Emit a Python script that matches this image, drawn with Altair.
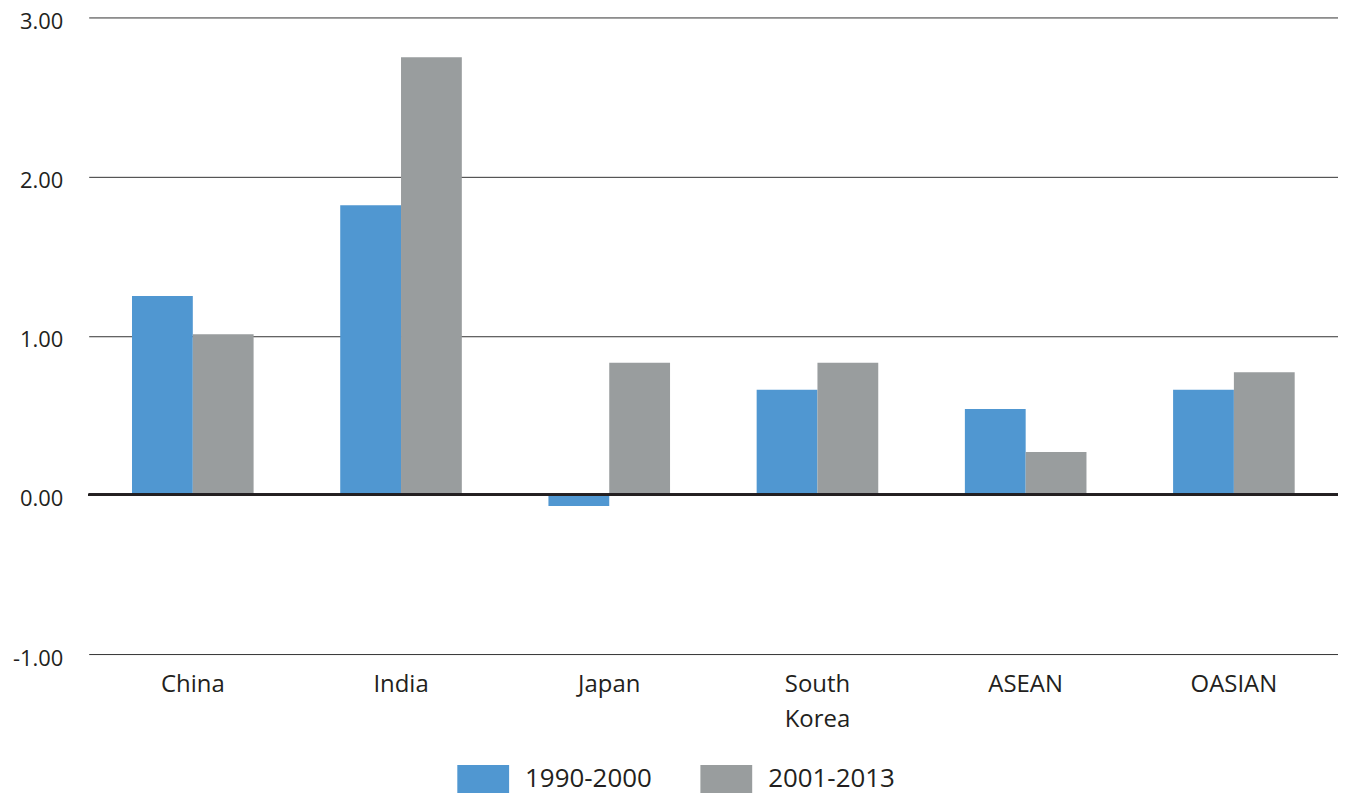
import altair as alt
import pandas as pd

regions = ["China", "India", "Japan", "South Korea", "ASEAN", "OASIAN"]
periods = ["1990-2000", "2001-2013"]
values_1990_2000 = [1.25, 1.82, -0.07, 0.66, 0.54, 0.66]
values_2001_2013 = [1.01, 2.75, 0.83, 0.83, 0.27, 0.77]
colors = ["#5097d1", "#999d9e"]
y_ticks = [-1, 0, 1, 2, 3]

rows = []
for r, a, b in zip(regions, values_1990_2000, values_2001_2013):
    rows.append({"region": r, "period": periods[0], "value": a})
    rows.append({"region": r, "period": periods[1], "value": b})
df = pd.DataFrame(rows)

FONT = "Open Sans"
TEXT = "#231f20"

y_scale = alt.Scale(domain=[-1, 3], nice=False, zero=False)
y_axis = alt.Axis(
    values=y_ticks, grid=True, gridColor="#333333",
    gridWidth=1, domain=False, ticks=False, labelPadding=26,
    labelExpr="(datum.value < 0 ? '-' : '') + format(abs(datum.value), '.2f')",
    labelFontSize=22, labelFont=FONT, labelColor=TEXT, labelOffset=4,
)

bars = alt.Chart(df).mark_bar().encode(
    x=alt.X(
        "region:N", sort=regions, title=None,
        scale=alt.Scale(paddingInner=0.416, paddingOuter=0.208),
        axis=alt.Axis(
            labelAngle=0, domain=False, ticks=False, grid=False,
            labelPadding=19, labelFontSize=24, labelFont=FONT,
            labelColor=TEXT, labelExpr="split(datum.value, ' ')",
            labelLineHeight=35,
        ),
    ),
    xOffset=alt.XOffset("period:N", sort=periods,
                        scale=alt.Scale(paddingInner=0, paddingOuter=0)),
    y=alt.Y("value:Q", title=None, scale=y_scale, axis=y_axis),
    color=alt.Color(
        "period:N",
        scale=alt.Scale(domain=periods, range=colors),
        legend=alt.Legend(
            title=None, orient="none", legendX=370, legendY=738,
            direction="horizontal", symbolType="M-1,-0.54H1V0.54H-1Z",
            symbolSize=2704, symbolStrokeWidth=0, symbolOpacity=1,
            labelFontSize=26, labelFont=FONT, labelColor=TEXT,
            labelOffset=16, columnPadding=48, padding=0,
        ),
    ),
)

zero = alt.Chart(df).mark_rule(color=TEXT, strokeWidth=2.3).encode(
    y=alt.Y(datum=0, scale=y_scale, title=None, axis=y_axis)
)

chart = alt.layer(bars, zero).properties(
    width=1254, height=639,
    autosize=alt.AutoSizeParams(type="none"),
    padding={"left": 81, "top": 8, "right": 0, "bottom": 140},
).configure(background="white").configure_view(stroke=None)

chart.save("out.html", embed_options={"renderer": "svg", "actions": False})
